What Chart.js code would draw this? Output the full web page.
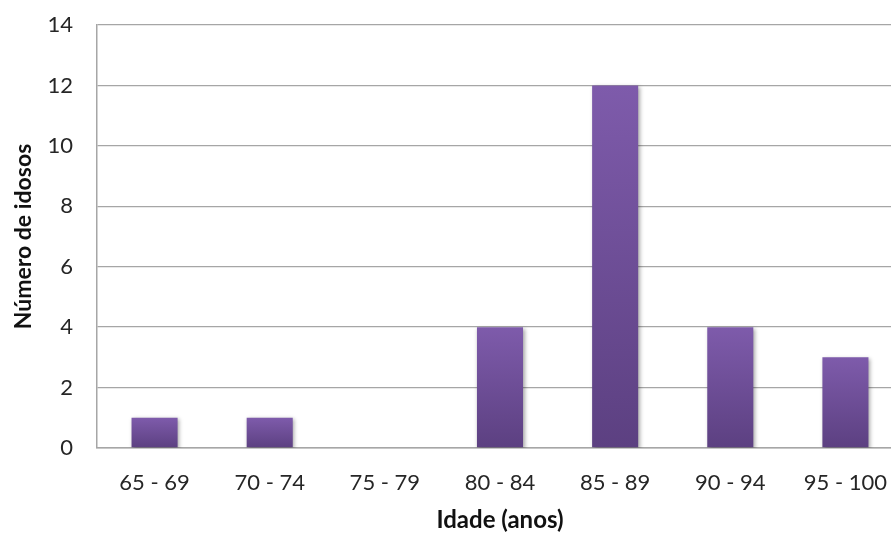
<!DOCTYPE html>
<html>
<head>
<meta charset="utf-8">
<script src="https://cdn.jsdelivr.net/npm/chart.js@4"></script>
<style>
  html, body { margin: 0; padding: 0; background: #fff; overflow: hidden; }
  /* plot area runs a little past the right edge of the window */
  #wrap { width: 903px; height: 535px; }
</style>
</head>
<body>
<div id="wrap"><canvas id="myChart"></canvas></div>
<script>
var faixas = ["65 - 69", "70 - 74", "75 - 79", "80 - 84", "85 - 89", "90 - 94", "95 - 100"];
var idosos = [1, 1, 0, 4, 12, 4, 3];
var yTicks = [0, 2, 4, 6, 8, 10, 12, 14];

// vertical gradient from the top of each bar down to the axis
function barFill(context) {
  var chart = context.chart;
  var area = chart.chartArea;
  if (!area) return "#6E4F98";
  var v = context.raw;
  var top = chart.scales.y.getPixelForValue(v);
  var bottom = chart.scales.y.getPixelForValue(0);
  if (bottom - top < 1) return "#6E4F98";
  var g = chart.ctx.createLinearGradient(0, top, 0, bottom);
  g.addColorStop(0, "#7E5BAB");
  g.addColorStop(1, "#5C4081");
  return g;
}

var shadow = {
  id: "shadow",
  beforeDatasetDraw: function(chart) {
    var ctx = chart.ctx;
    ctx.save();
    ctx.shadowColor = "rgba(0,0,0,0.35)";
    ctx.shadowBlur = 4;
    ctx.shadowOffsetX = 1.5;
    ctx.shadowOffsetY = 1.5;
  },
  afterDatasetDraw: function(chart) {
    chart.ctx.restore();
  }
};

var ctx = document.getElementById("myChart");

new Chart(ctx, {
  type: "bar",
  data: {
    labels: faixas,
    datasets: [{
      data: idosos,
      backgroundColor: barFill,
      borderWidth: 0,
      barPercentage: 0.40,
      categoryPercentage: 1.0
    }]
  },
  plugins: [shadow],
  options: {
    responsive: true,
    maintainAspectRatio: false,
    animation: false,
    layout: { padding: { top: 25, right: 0, left: 0, bottom: 0 } },
    plugins: {
      legend: { display: false },
      tooltip: { enabled: false }
    },
    scales: {
      x: {
        grid: { display: false, drawTicks: false },
        border: { display: true, color: "#A6A6A6", width: 1.5 },
        ticks: {
          color: "#262626",
          font: { family: "Lato", size: 22 },
          padding: 22,
          maxRotation: 0
        },
        title: {
          display: true,
          text: "Idade (anos)",
          color: "#111",
          font: { family: "Lato", size: 24, weight: "bold" },
          padding: { top: 3, bottom: 0 }
        },
        afterFit: function(scale) {
          scale.height = 87;
          scale.paddingLeft = 0;
          scale.paddingRight = 0;
        }
      },
      y: {
        min: 0,
        max: 14,
        afterBuildTicks: function(scale) {
          scale.ticks = yTicks.map(function(v) { return { value: v }; });
        },
        grid: { color: "#A6A6A6", lineWidth: 1.3, drawTicks: false },
        border: { display: true, color: "#A6A6A6", width: 1.5 },
        ticks: {
          color: "#262626",
          font: { family: "Lato", size: 22 },
          padding: 24
        },
        title: {
          display: true,
          text: "Número de idosos",
          color: "#111",
          font: { family: "Lato", size: 23, weight: "bold" },
          padding: { top: 10, bottom: 4 }
        },
        afterFit: function(scale) {
          scale.width = 97;
          scale.paddingTop = 0;
          scale.paddingBottom = 0;
        }
      }
    }
  }
});
</script>
</body>
</html>
